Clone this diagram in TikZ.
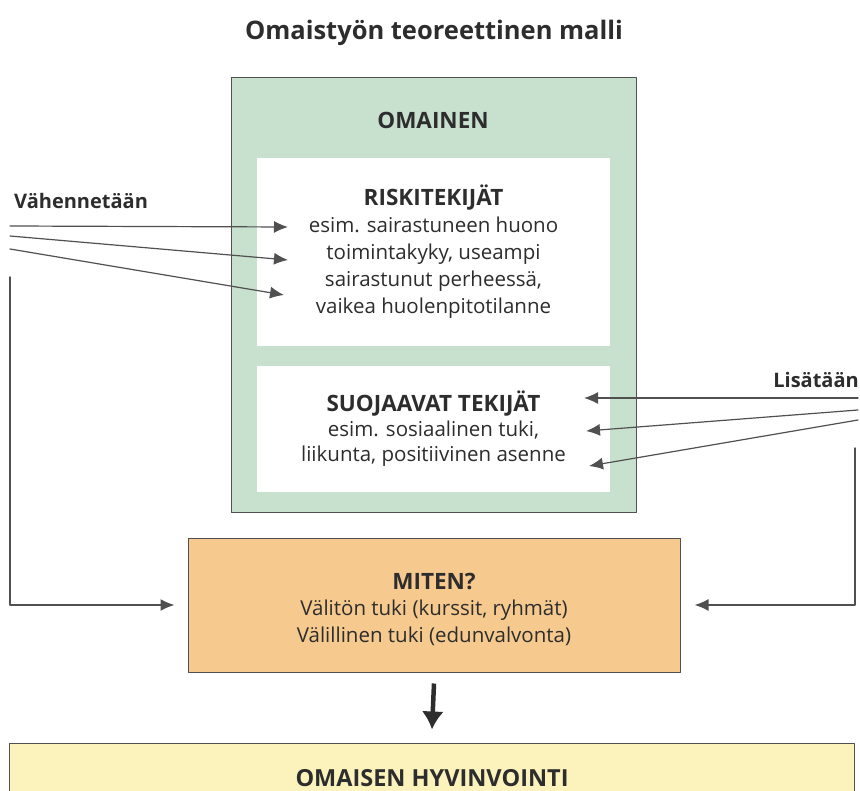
\documentclass[tikz,border=0pt]{standalone}
\usepackage{fontspec}
\setmainfont{Open Sans}
\usepackage{xcolor}
\usetikzlibrary{arrows.meta}
\usetikzlibrary{positioning}
\definecolor{OmaGreen}{RGB}{200,224,206}
\definecolor{OmaOrange}{RGB}{246,201,142}
\definecolor{OmaYellow}{RGB}{252,243,188}
\definecolor{OmaText}{RGB}{45,45,45}
\definecolor{OmaLine}{RGB}{80,80,80}
\newcommand{\boxhead}[1]{{\fontsize{22.5}{27}\selectfont\bfseries #1}}
\tikzset{
	>={Latex[length=14pt,width=12pt]},
	frame/.style={draw=OmaLine, line width=1pt, inner sep=0pt, text=OmaText},
	whitebox/.style={fill=white, draw=none, minimum width=353pt, align=center, text=OmaText,
		font=\fontsize{20.5}{27}\selectfont},
	feed/.style={OmaLine, line width=1.2pt, ->},
	hinge/.style={OmaLine, line width=1.4pt, ->},
	sidelabel/.style={font=\fontsize{20}{22}\selectfont\bfseries, text=OmaText, inner sep=0pt},
	heading/.style={font=\fontsize{22.5}{26}\selectfont\bfseries, text=OmaText, inner sep=0pt}
}

\begin{document}
\begin{tikzpicture}[x=1pt, y=-1pt, line cap=round, line join=round]
		\useasboundingbox (0,0) rectangle (860,791);
		
		% Title
		\node[font=\fontsize{25.5}{28}\selectfont\bfseries, text=OmaText] (title) at (434,33) {Omaistyön teoreettinen malli};
		
		% The relative (green frame) with two white boxes
		\node[frame, fill=OmaGreen, minimum width=405pt, minimum height=435pt] (omainen) at (433.5,295.5) {};
		\node[heading] (omahead) at (433,120) {OMAINEN};
		\node[whitebox, minimum height=188pt] (riski) at (433.5,252)
			{\boxhead{RISKITEKIJÄT}\\esim. sairastuneen huono\\toimintakyky, useampi\\sairastunut perheessä,\\vaikea huolenpitotilanne};
		\node[whitebox, minimum height=126pt, font=\fontsize{20.5}{25}\selectfont] (suoja) at (433.5,429)
			{\boxhead{SUOJAAVAT TEKIJÄT}\\esim. sosiaalinen tuki,\\liikunta, positiivinen asenne};
		
		% How?
		\node[frame, fill=OmaOrange, minimum width=492pt, minimum height=134pt] (miten) at (434,605) {};
		\node[align=center, text=OmaText, font=\fontsize{20.5}{26.5}\selectfont] (mitentext) at (434,609)
			{\boxhead{MITEN?}\\Välitön tuki (kurssit, ryhmät)\\Välillinen tuki (edunvalvonta)};
		
		% Well-being
		\node[frame, fill=OmaYellow, minimum width=845pt, minimum height=52pt] (hyvin) at (432,769) {};
		\node[heading, font=\fontsize{23.5}{26}\selectfont\bfseries] (hyvhead) at (432,778) {OMAISEN HYVINVOINTI};
		
		% Side labels
		\node[sidelabel, anchor=west] (vahen) at (14,201) {Vähennetään};
		\node[sidelabel, anchor=east] (lisa) at (859,380) {Lisätään};
		
		% Arrow ends
		\coordinate (v1) at (10,226);  \coordinate (rt1) at (288,227);
		\coordinate (v2) at (10,236);  \coordinate (rt2) at (288,260);
		\coordinate (v3) at (10,249);  \coordinate (rt3) at (284,295);
		\coordinate (l1) at (858,398); \coordinate (st1) at (584,398);
		\coordinate (l2) at (858,410); \coordinate (st2) at (586,431);
		\coordinate (l3) at (858,420); \coordinate (st3) at (589,466);
		\coordinate (vdown) at (10,277);
		\coordinate (ldown) at (855,448);
		
		% Reduced factors
		\draw[feed] (v1) -- (rt1);
		\draw[feed] (v2) -- (rt2);
		\draw[feed] (v3) -- (rt3);
		
		% Added factors
		\draw[feed] (l1) -- (st1);
		\draw[feed] (l2) -- (st2);
		\draw[feed] (l3) -- (st3);
		
		% Both lead to the support
		\draw[hinge] (vdown) |- ([xshift=-13pt]miten.west);
		\draw[hinge] (ldown) |- ([xshift=14pt]miten.east);
		
		% Result
		\draw[OmaText, line width=4.5pt, line cap=butt, -{Latex[length=18pt,width=22pt]}] ([yshift=-11pt]miten.south) -- ([yshift=13pt]hyvin.north);
	\end{tikzpicture}
\end{document}
